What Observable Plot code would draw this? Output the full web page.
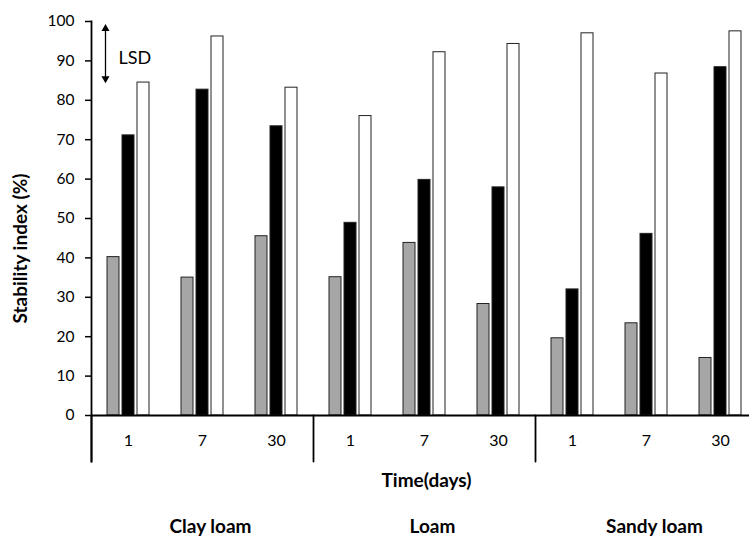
<!DOCTYPE html>
<html>
<head>
<meta charset="utf-8">
<script src="https://cdn.jsdelivr.net/npm/d3@7"></script>
<script src="https://cdn.jsdelivr.net/npm/@observablehq/plot@0.6"></script>
<style>
  body { margin: 0; background: #fff; }
  #chart { width: 749px; height: 540px; overflow: hidden; }
</style>
</head>
<body>
<div id="chart"></div>
<script>
// ---- data ----
const soils = ["Clay loam", "Loam", "Sandy loam"];
const days = ["1", "7", "30"];
const treatments = ["Series 1", "Series 2", "Series 3"];
const series1Values = [40.2, 35.0, 45.5, 35.1, 43.8, 28.3, 19.6, 23.4, 14.6];
const series2Values = [71.1, 82.7, 73.4, 48.9, 59.8, 57.9, 32.0, 46.1, 88.4];
const series3Values = [84.5, 96.2, 83.2, 76.0, 92.2, 94.3, 97.0, 86.8, 97.5];
const yTicks = [0, 10, 20, 30, 40, 50, 60, 70, 80, 90, 100];
const lsdRange = [{low: 85.5, high: 98.2, label: "LSD"}];
const yLabel = "Stability index (%)";
const xLabel = "Time(days)";

// ---- tables built from the arrays ----
const groups = soils.flatMap(soil => days.map(day => ({soil, day, key: soil + "|" + day})));
const keys = groups.map(g => g.key);
const seriesValues = [series1Values, series2Values, series3Values];
const table = groups.flatMap((g, i) =>
  treatments.map((t, j) => ({...g, treatment: t, value: seriesValues[j][i]})));

const lsdOpts = {fx: () => keys[0], x: () => treatments[0], dx: -8};

const chart = Plot.plot({
  width: 749,
  height: 540,
  marginLeft: 89,
  marginRight: -9,
  marginTop: 21,
  marginBottom: 125,
  style: {fontFamily: "Lato, sans-serif", fontSize: "15px", color: "black", background: "white"},
  fx: {domain: keys, padding: 0, axis: null, label: null},
  x: {domain: treatments, paddingInner: 0.18, paddingOuter: 0.93, axis: null, label: null},
  y: {domain: [0, 100], axis: null},
  color: {type: "ordinal", domain: treatments, range: ["#a6a6a6", "#000000", "#ffffff"]},
  marks: [
    Plot.barY(table, {fx: "key", x: "treatment", y: "value", fill: "treatment", stroke: "#222", strokeWidth: 1}),
    Plot.ruleY([0], {stroke: "black", strokeWidth: 1.8}),
    Plot.frame({anchor: "left", facetAnchor: "left", insetBottom: -46, stroke: "black", strokeWidth: 1.8}),
    Plot.vector(soils, {fx: s => s + "|" + days[0], frameAnchor: "bottom-left", length: 46, rotate: 180, anchor: "start", r: 0, stroke: "black", strokeWidth: 1.8}),
    Plot.axisY({ticks: yTicks, tickSize: 6, tickPadding: 11, fontSize: 15.5, label: null, strokeWidth: 1.5}),
    Plot.text(groups, {fx: "key", text: "day", frameAnchor: "bottom", dy: 25, lineAnchor: "middle", fontSize: 16}),
    Plot.text([xLabel], {fx: () => keys[4], text: d => d, frameAnchor: "bottom", dy: 65, dx: 2, lineAnchor: "middle", fontSize: 19, fontWeight: "bold"}),
    Plot.text(soils, {fx: s => s + "|" + days[1], text: d => d, frameAnchor: "bottom", dy: 111, dx: 8, lineAnchor: "middle", fontSize: 19, fontWeight: "bold"}),
    Plot.text([yLabel], {fx: () => keys[0], text: d => d, frameAnchor: "left", textAnchor: "middle", lineAnchor: "middle", rotate: -90, dx: -71, dy: 30, fontSize: 19, fontWeight: "bold"}),
    Plot.ruleX(lsdRange, {...lsdOpts, y1: "low", y2: "high", stroke: "black", strokeWidth: 1.3}),
    Plot.dot(lsdRange, {...lsdOpts, y: "high", symbol: "triangle", r: 3, fill: "black", stroke: "none"}),
    Plot.dot(lsdRange, {...lsdOpts, y: "low", symbol: "triangle", rotate: 180, r: 3, fill: "black", stroke: "none"}),
    Plot.text(lsdRange, {fx: () => keys[0], x: () => treatments[0], y: d => (d.low + d.high) / 2, text: "label", textAnchor: "start", dx: 5, dy: 5, fontSize: 18})
  ]
});
document.getElementById("chart").append(chart);
</script>
</body>
</html>
